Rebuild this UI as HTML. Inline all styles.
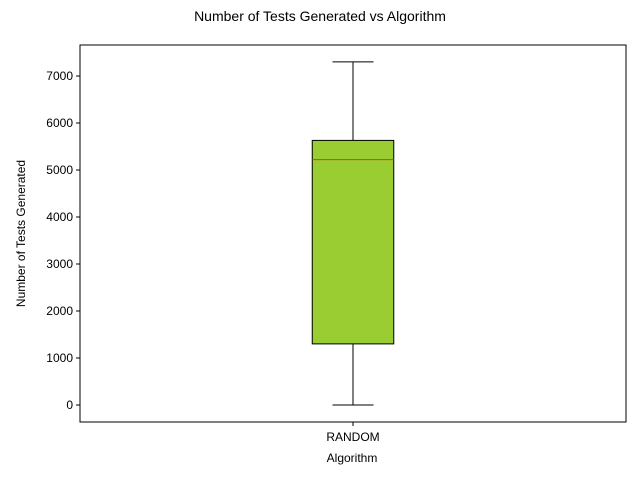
<!DOCTYPE html>
<html><head><meta charset="utf-8"><style>
html,body{margin:0;padding:0;background:#fff;}
svg{display:block;font-family:"Liberation Sans","DejaVu Sans",sans-serif;}
</style></head><body>
<svg id="chart" width="640" height="480">
<text x="320" y="21" text-anchor="middle" font-size="14">Number of Tests Generated vs Algorithm</text>
<rect x="80" y="45" width="546" height="377" fill="none" stroke="#000" stroke-width="1"/>
<g id="yaxis"></g>
<g id="xaxis"></g>
<g id="boxes"></g>
<text x="352" y="462" text-anchor="middle" font-size="12">Algorithm</text>
<text transform="translate(25,233.5) rotate(-90)" text-anchor="middle" font-size="12">Number of Tests Generated</text>
</svg>
<script>
const categories = ["RANDOM"];
const whiskerLow = [0];
const q1 = [1300];
const medians = [5220];
const q3 = [5630];
const whiskerHigh = [7300];
const yTicks = [0,1000,2000,3000,4000,5000,6000,7000];

const NS="http://www.w3.org/2000/svg";
const yMin=-362, yMax=7660, plotTop=45, plotBottom=422, plotLeft=80, plotRight=626;
function yScale(v){return plotBottom-(v-yMin)/(yMax-yMin)*(plotBottom-plotTop);}
function xScale(i){return plotLeft+(i+1)*(plotRight-plotLeft)/(categories.length+1);}
function mk(tag,attrs,parent){const e=document.createElementNS(NS,tag);for(const k in attrs)e.setAttribute(k,attrs[k]);parent.appendChild(e);return e;}

const ya=document.getElementById('yaxis');
yTicks.forEach(t=>{
  const y=yScale(t);
  const l=mk('line',{x1:plotLeft-4,x2:plotLeft,y1:y,y2:y,stroke:'#000'},ya);
  
  
  const tx=mk('text',{x:plotLeft-7,y:y+4,'text-anchor':'end','font-size':'12'},ya);
  tx.textContent=t;
  
  
});
const xa=document.getElementById('xaxis');
const bx=document.getElementById('boxes');
const halfW=40.75, capW=20.5;
categories.forEach((c,i)=>{
  const x=xScale(i);
  const l=mk('line',{x1:x,x2:x,y1:plotBottom,y2:plotBottom+4,stroke:'#000'},xa);
  
  
  const tx=mk('text',{x:x,y:plotBottom+19,'text-anchor':'middle','font-size':'12'},xa);
  tx.textContent=c;
  
  
  const g=mk('g',{},bx);
  
  
  const w1=mk('line',{x1:x,x2:x,y1:yScale(whiskerLow[i]),y2:yScale(q1[i]),stroke:'#000'},g);
  
  
  const w2=mk('line',{x1:x,x2:x,y1:yScale(q3[i]),y2:yScale(whiskerHigh[i]),stroke:'#000'},g);
  
  
  const c1=mk('line',{x1:x-capW,x2:x+capW,y1:yScale(whiskerLow[i]),y2:yScale(whiskerLow[i]),stroke:'#000'},g);
  
  
  const c2=mk('line',{x1:x-capW,x2:x+capW,y1:yScale(whiskerHigh[i]),y2:yScale(whiskerHigh[i]),stroke:'#000'},g);
  
  
  const r=mk('rect',{x:x-halfW,y:yScale(q3[i]),width:2*halfW,height:yScale(q1[i])-yScale(q3[i]),fill:'#9acd32',stroke:'#000'},g);
  
  
  const m=mk('line',{x1:x-halfW,x2:x+halfW,y1:yScale(medians[i]),y2:yScale(medians[i]),stroke:'#d2401e'},g);
  
  
});
</script>
</body></html>
